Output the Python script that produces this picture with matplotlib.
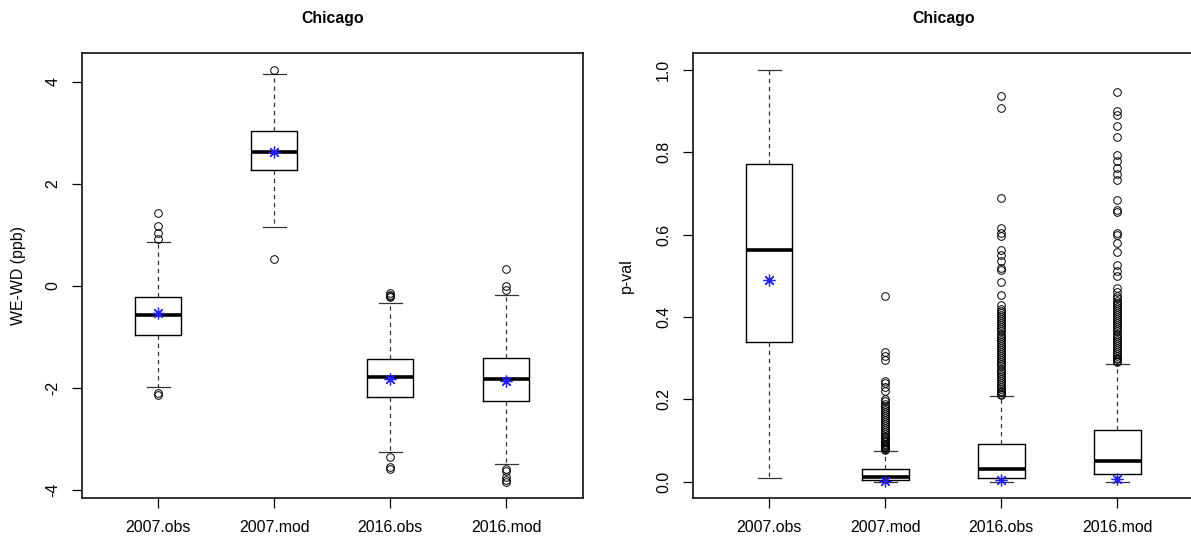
import matplotlib
matplotlib.use('Agg')
import matplotlib.pyplot as plt

plt.rcParams['font.family'] = ['Liberation Sans', 'DejaVu Sans']

groups = ['2007.obs', '2007.mod', '2016.obs', '2016.mod']
title = 'Chicago'

# WE-WD (ppb) panel
wd_q1 = [-0.96, 2.26, -2.18, -2.26]
wd_med = [-0.58, 2.63, -1.79, -1.82]
wd_q3 = [-0.21, 3.03, -1.44, -1.41]
wd_lo = [-1.98, 1.16, -3.26, -3.50]
wd_hi = [0.86, 4.14, -0.34, -0.18]
wd_mean = [-0.54, 2.62, -1.83, -1.86]
wd_out = [
    [0.91, 1.04, 1.17, 1.43, -2.10, -2.14],
    [4.23, 0.52],
    [-0.15, -0.18, -0.20, -0.22, -3.36, -3.54, -3.59],
    [0.33, 0.0, -0.08, -3.59, -3.63, -3.74, -3.80, -3.84],
]

# p-val panel
pv_q1 = [0.340, 0.004, 0.010, 0.018]
pv_med = [0.563, 0.012, 0.032, 0.051]
pv_q3 = [0.772, 0.032, 0.091, 0.125]
pv_lo = [0.010, 0.0, 0.0, 0.0]
pv_hi = [1.0, 0.076, 0.209, 0.286]
pv_mean = [0.489, 0.002, 0.004, 0.006]
pv_out = [
    [],
    [0.078, 0.080, 0.082, 0.085, 0.088, 0.090, 0.093, 0.096, 0.100, 0.104,
     0.108, 0.112, 0.116, 0.120, 0.125, 0.130, 0.135, 0.140, 0.145, 0.150,
     0.155, 0.160, 0.165, 0.170, 0.175, 0.180, 0.185, 0.190, 0.195, 0.200,
     0.220, 0.230, 0.240, 0.245, 0.295, 0.305, 0.315, 0.450],
    [0.210, 0.213, 0.217, 0.220, 0.225, 0.230, 0.235, 0.240, 0.245, 0.250,
     0.255, 0.260, 0.265, 0.270, 0.275, 0.280, 0.285, 0.290, 0.295, 0.300,
     0.305, 0.310, 0.315, 0.320, 0.325, 0.330, 0.335, 0.340, 0.345, 0.350,
     0.355, 0.360, 0.365, 0.370, 0.375, 0.380, 0.385, 0.390, 0.395, 0.400,
     0.405, 0.410, 0.415, 0.420, 0.430, 0.454, 0.485, 0.515, 0.520, 0.535,
     0.551, 0.563, 0.596, 0.605, 0.616, 0.689, 0.907, 0.937],
    [0.290, 0.293, 0.297, 0.300, 0.305, 0.310, 0.315, 0.320, 0.325, 0.330,
     0.335, 0.340, 0.345, 0.350, 0.355, 0.360, 0.365, 0.370, 0.375, 0.380,
     0.385, 0.390, 0.395, 0.400, 0.405, 0.410, 0.415, 0.420, 0.425, 0.430,
     0.435, 0.440, 0.445, 0.450, 0.460, 0.470, 0.499, 0.511, 0.527, 0.559,
     0.580, 0.600, 0.605, 0.655, 0.660, 0.683, 0.733, 0.747, 0.762, 0.778,
     0.794, 0.838, 0.864, 0.891, 0.899, 0.947],
]


def make_stats(q1, med, q3, lo, hi, mean, out):
    stats = []
    for i in range(len(groups)):
        stats.append(dict(q1=q1[i], med=med[i], q3=q3[i], whislo=lo[i],
                          whishi=hi[i], mean=mean[i], fliers=out[i]))
    return stats


def draw_panel(ax, stats, ylabel, yticks, yticklabels, label_x):
    ax.bxp(stats, positions=[1, 2, 3, 4], widths=0.4, capwidths=0.2,
           showmeans=True, patch_artist=False,
           boxprops=dict(color='black', linewidth=1.0),
           medianprops=dict(color='black', linewidth=2.6, solid_capstyle='butt'),
           whiskerprops=dict(color='#333333', linewidth=0.9, linestyle=(0, (3.5, 3))),
           capprops=dict(color='#333333', linewidth=0.9),
           flierprops=dict(marker='o', markerfacecolor='none', markeredgecolor='black',
                           markersize=5.5, markeredgewidth=0.7),
           meanprops=dict(marker=(8, 2, 0), markeredgecolor='#2020ff',
                          markerfacecolor='#2020ff', markersize=8.5, markeredgewidth=0.9))
    vals = []
    for s in stats:
        vals += [s['whislo'], s['whishi']] + list(s['fliers'])
    lo, hi = min(vals), max(vals)
    pad = (hi - lo) * 0.04
    ax.set_ylim(lo - pad, hi + pad)
    ax.set_xlim(0.34, 4.66)
    ax.set_xticks([1, 2, 3, 4])
    ax.set_xticklabels(groups)
    ax.set_yticks(yticks)
    ax.set_yticklabels(yticklabels)
    ax.tick_params(axis='both', direction='out', length=7, width=0.9,
                   labelsize=11.4, pad=8.5, colors='black')
    ax.tick_params(axis='y', labelrotation=90)
    for lab in ax.get_yticklabels():
        lab.set_va('center')
    for sp in ax.spines.values():
        sp.set_linewidth(1.3)
        sp.set_color('#222222')
    ax.set_ylabel(ylabel, fontsize=11.4)
    ax.yaxis.set_label_coords(label_x, 0.5)
    ax.yaxis.label.set_va('center')
    ax.text(0.5, 1.079, title, transform=ax.transAxes, ha='center', va='center',
            fontsize=11.4, fontweight='bold')


fig = plt.figure(figsize=(11.91, 5.4), dpi=100)
ax1 = fig.add_axes([0.0686, 0.0772, 0.4207, 0.824])
# right panel runs slightly past the figure edge, as in the cropped original
ax2 = fig.add_axes([0.5816, 0.0772, 0.4209, 0.824])
ax2.spines['right'].set_visible(False)

draw_panel(ax1, make_stats(wd_q1, wd_med, wd_q3, wd_lo, wd_hi, wd_mean, wd_out),
           'WE-WD (ppb)', [-4, -2, 0, 2, 4], ['-4', '-2', '0', '2', '4'], -0.126)
draw_panel(ax2, make_stats(pv_q1, pv_med, pv_q3, pv_lo, pv_hi, pv_mean, pv_out),
           'p-val', [0, 0.2, 0.4, 0.6, 0.8, 1.0],
           ['0.0', '0.2', '0.4', '0.6', '0.8', '1.0'], -0.133)
ax2.spines['right'].set_visible(False)

fig.savefig('out.png', dpi=100)
